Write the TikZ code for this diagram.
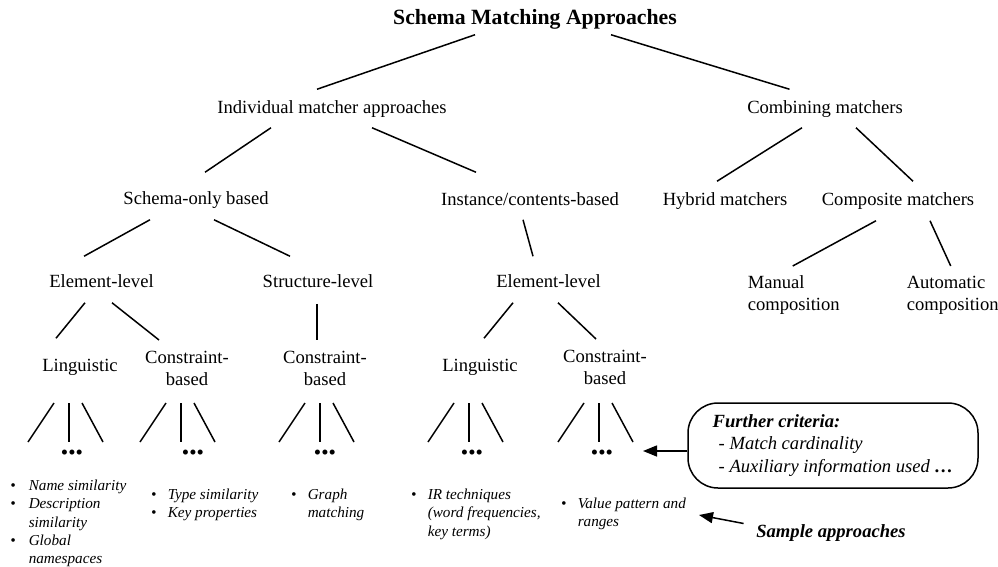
\documentclass[tikz,border=0pt]{standalone}
\usepackage{fontspec}
\setmainfont{Liberation Serif}
\usetikzlibrary{arrows.meta}
\tikzset{
  lbl/.style={font=\fontsize{18.6}{22}\selectfont, inner sep=0pt, text height=13pt, text depth=4pt},
  ttl/.style={font=\fontsize{21.75}{26}\selectfont\bfseries, inner sep=0pt, text height=15pt, text depth=5pt},
  twoline/.style={font=\fontsize{18.6}{22}\selectfont, inner sep=0pt, align=center, anchor=north},
  twoleft/.style={font=\fontsize{18.6}{22}\selectfont, inner sep=0pt, align=left, anchor=north west},
  samplist/.style={font=\fontsize{15.2}{18.3}\selectfont\itshape, inner sep=0pt, anchor=base west},
  dotrow/.style={font=\fontsize{21}{21}\selectfont, inner sep=0pt},
  arr/.style={-{Triangle[length=14pt,width=11pt]}},
}
\begin{document}
\begin{tikzpicture}[x=1pt, y=-1pt, line width=1.5pt]
\useasboundingbox (0,0) rectangle (998,567);
% tree labels
\node[ttl] (smatch) at (535,20) {Schema Matching Approaches};
\node[lbl] (indiv) at (332,109) {Individual matcher approaches};
\node[lbl] (combi) at (825,109) {Combining matchers};
\node[lbl] (schonly) at (196,200) {Schema-only based};
\node[lbl] (inst) at (530,201) {Instance/contents-based};
\node[lbl] (hybrid) at (725,201) {Hybrid matchers};
\node[lbl] (compo) at (898,201) {Composite matchers};
\node[lbl] (elemL) at (101.5,283) {Element-level};
\node[lbl] (struc) at (318,283) {Structure-level};
\node[lbl] (elemM) at (548.5,283) {Element-level};
\node[twoleft] (manual) at (747,275) {Manual\\composition};
\node[twoleft] (auto) at (906,275) {Automatic\\composition};
\node[lbl] (lingL) at (80,367) {Linguistic};
\node[twoline] (consL) at (187,350) {Constraint-\\based};
\node[twoline] (consS) at (325,350) {Constraint-\\based};
\node[lbl] (lingM) at (480,367) {Linguistic};
\node[twoline] (consM) at (605,349) {Constraint-\\based};

% tree edges
\draw ([xshift=-60pt,yshift=-4pt]smatch.south) -- ([xshift=-15pt,yshift=10.5pt]indiv.north);
\draw ([xshift=76pt,yshift=-4pt]smatch.south) -- ([xshift=-35.5pt,yshift=10.5pt]combi.north);
\draw ([xshift=-61pt,yshift=-9.5pt]indiv.south) -- ([xshift=9pt,yshift=18.5pt]schonly.north);
\draw ([xshift=40pt,yshift=-9.5pt]indiv.south) -- ([xshift=-54pt,yshift=19.5pt]inst.north);
\draw ([xshift=-23pt,yshift=-9.5pt]combi.south) -- ([xshift=-8pt,yshift=10.5pt]hybrid.north);
\draw ([xshift=31pt,yshift=-9.5pt]combi.south) -- ([xshift=15pt,yshift=10.5pt]compo.north);
\draw ([xshift=-46pt,yshift=-10.5pt]schonly.south) -- ([xshift=-17.5pt,yshift=17.5pt]elemL.north);
\draw ([xshift=18pt,yshift=-10.5pt]schonly.south) -- ([xshift=-28pt,yshift=17.5pt]struc.north);
\draw ([xshift=-7pt,yshift=-9.5pt]inst.south) -- ([xshift=-15.5pt,yshift=17.5pt]elemM.north);
\draw ([xshift=-22pt,yshift=-10.5pt]compo.south) -- ([xshift=-1pt,yshift=9pt]manual.north);
\draw ([xshift=32pt,yshift=-10.5pt]compo.south) -- ([xshift=-2pt,yshift=9pt]auto.north);
\draw ([xshift=-16.5pt,yshift=-10.5pt]elemL.south) -- ([xshift=-24pt,yshift=19.5pt]lingL.north);
\draw ([xshift=10.5pt,yshift=-10.5pt]elemL.south) -- ([xshift=-28pt,yshift=10pt]consL.north);
\draw ([xshift=-1pt,yshift=-11.5pt]struc.south) -- ([xshift=-8pt,yshift=10pt]consS.north);
\draw ([xshift=-35.5pt,yshift=-10.5pt]elemM.south) -- ([xshift=4pt,yshift=19.5pt]lingM.north);
\draw ([xshift=9.5pt,yshift=-10.5pt]elemM.south) -- ([xshift=-9pt,yshift=10pt]consM.north);

% fans and dots
\foreach \fx in {69,181,320,469,599}{
  \draw (\fx-15,403) -- (\fx-41,442);
  \draw (\fx,403) -- (\fx,442);
  \draw (\fx+13,403) -- (\fx+34,442);
}
\node[dotrow] (dotsA) at (72,455) {\textbullet\textbullet\textbullet};
\node[dotrow] (dotsB) at (193,455) {\textbullet\textbullet\textbullet};
\node[dotrow] (dotsC) at (325,455) {\textbullet\textbullet\textbullet};
\node[dotrow] (dotsD) at (472,455) {\textbullet\textbullet\textbullet};
\node[dotrow] (dotsE) at (602,455) {\textbullet\textbullet\textbullet};

% sample approaches
\node[samplist] (listA) at (9.5,490.5) {\begin{tabular}[t]{@{}l@{\hspace{13.2pt}}l@{}}
  \textbullet & Name similarity\\ \textbullet & Description\\ & similarity\\ \textbullet & Global\\ & namespaces
\end{tabular}};
\node[samplist] (listB) at (150.4,499.5) {\begin{tabular}[t]{@{}l@{\hspace{11.3pt}}l@{}}
  \textbullet & Type similarity\\ \textbullet & Key properties
\end{tabular}};
\node[samplist] (listC) at (290.4,499.5) {\begin{tabular}[t]{@{}l@{\hspace{11.3pt}}l@{}}
  \textbullet & Graph\\ & matching
\end{tabular}};
\node[samplist] (listD) at (410.4,499.5) {\begin{tabular}[t]{@{}l@{\hspace{11.3pt}}l@{}}
  \textbullet & IR techniques\\ & (word frequencies,\\ & key terms)
\end{tabular}};
\node[samplist] (listE) at (560.4,508.5) {\begin{tabular}[t]{@{}l@{\hspace{11.3pt}}l@{}}
  \textbullet & Value pattern and\\ & ranges
\end{tabular}};

% further criteria box
\node[draw, rounded corners=30pt, minimum width=290pt, minimum height=85pt, align=left,
  inner sep=0pt, font=\fontsize{18.6}{22.5}\selectfont\itshape] (crit) at (833,445.5)
  {\textbf{Further criteria:}\\ \hspace*{6pt}- Match cardinality\\ \hspace*{6pt}- Auxiliary information used \textbf{\ldots}};
\coordinate (critTip) at (643,451);
\draw[arr] (crit.west |- critTip) -- (critTip);

\node[lbl, font=\fontsize{18.6}{22}\selectfont\bfseries\itshape] (sampl) at (831,533) {Sample approaches};
\coordinate (sampTip) at (699,515);
\draw[arr] ([xshift=-12pt,yshift=9.5pt]sampl.west) -- (sampTip);
\end{tikzpicture}
\end{document}
